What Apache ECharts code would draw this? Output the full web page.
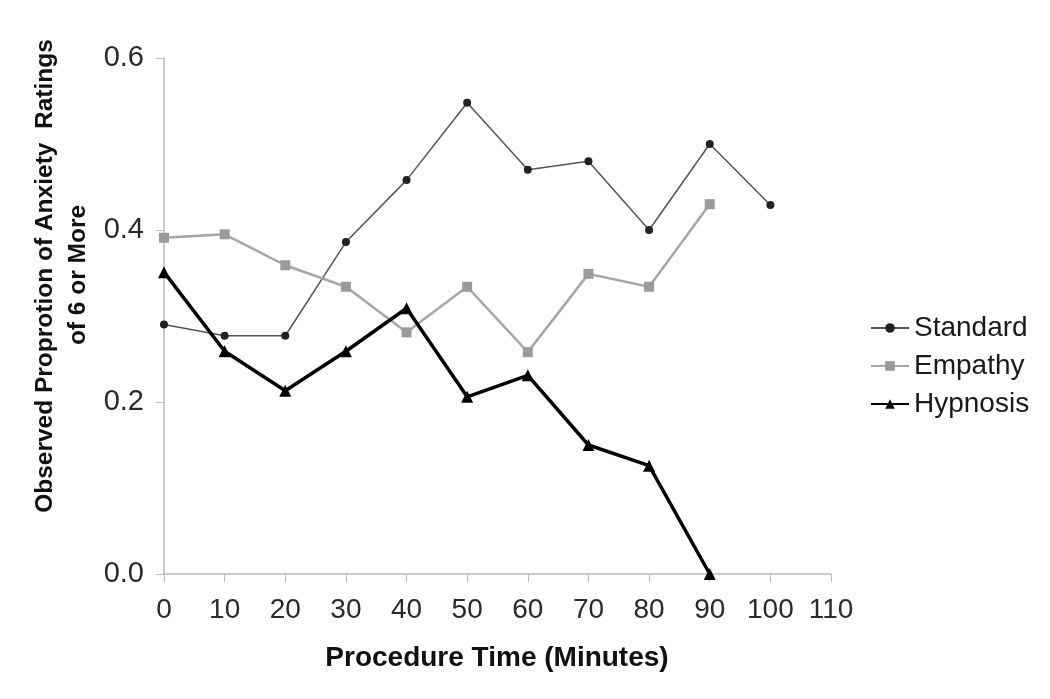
<!DOCTYPE html>
<html><head><meta charset="utf-8">
<script src="https://cdn.jsdelivr.net/npm/echarts@6/dist/echarts.min.js"></script>
<style>html,body{margin:0;padding:0;background:#fff}#c{width:1050px;height:699px}</style>
</head><body><div id="c"></div>
<script>
var times = [0,10,20,30,40,50,60,70,80,90,100];
var standard = [0.29,0.277,0.277,0.386,0.458,0.548,0.47,0.48,0.40,0.50,0.429];
var empathy = [0.391,0.395,0.359,0.334,0.281,0.334,0.258,0.349,0.334,0.43];
var hypnosis = [0.351,0.259,0.213,0.259,0.309,0.206,0.231,0.15,0.126,0.0];
function pairs(v){ return v.map(function(y,i){ return [times[i], y]; }); }
var F = '"Liberation Sans", Arial, sans-serif';
var chart = echarts.init(document.getElementById('c'));
chart.setOption({
  animation:false,
  backgroundColor:'#fff',
  grid:{left:164,right:219,top:58,bottom:125},
  legend:{
    orient:'vertical', left:865, top:309, itemGap:10, itemWidth:38, itemHeight:12,
    textStyle:{fontFamily:F,fontSize:28,color:'#1a1a1a'},
    data:['Standard','Empathy','Hypnosis']
  },
  xAxis:{
    type:'value', min:0, max:110, interval:10,
    axisLine:{show:true,lineStyle:{color:'#bbb',width:1.5}},
    axisTick:{show:true,length:8,lineStyle:{color:'#bbb'}},
    splitLine:{show:false},
    axisLabel:{fontFamily:F,fontSize:28,color:'#2a2a2a',margin:22}
  },
  yAxis:{
    type:'value', min:0, max:0.6, interval:0.2,
    axisLine:{show:true,lineStyle:{color:'#bbb',width:1.5}},
    axisTick:{show:true,length:8,lineStyle:{color:'#bbb'}},
    splitLine:{show:false},
    axisLabel:{fontFamily:F,fontSize:29,color:'#2a2a2a',margin:20,formatter:function(v){return v.toFixed(1);}}
  },
  graphic:[
    {type:'text', x:497, y:658, style:{text:'Procedure Time (Minutes)', fontFamily:F, fontSize:28, fontWeight:'bold', fill:'#111', align:'center', verticalAlign:'middle'}},
    {type:'text', x:45, y:276, rotation:Math.PI/2, style:{text:'Observed Proprotion of Anxiety  Ratings', fontFamily:F, fontSize:24.5, fontWeight:'bold', fill:'#111', align:'center', verticalAlign:'middle'}},
    {type:'text', x:78, y:275, rotation:Math.PI/2, style:{text:'of 6 or More', fontFamily:F, fontSize:24.5, fontWeight:'bold', fill:'#111', align:'center', verticalAlign:'middle'}}
  ],
  series:[
    {name:'Standard', type:'line', data:pairs(standard), symbol:'circle', symbolSize:8,
     lineStyle:{color:'#555',width:1.5}, itemStyle:{color:'#222'}},
    {name:'Empathy', type:'line', data:pairs(empathy), symbol:'rect', symbolSize:10,
     lineStyle:{color:'#a6a6a6',width:2.5}, itemStyle:{color:'#9a9a9a'}},
    {name:'Hypnosis', type:'line', data:pairs(hypnosis), symbol:'triangle', symbolSize:12,
     lineStyle:{color:'#000',width:3.5}, itemStyle:{color:'#000'}}
  ]
});
</script></body></html>
